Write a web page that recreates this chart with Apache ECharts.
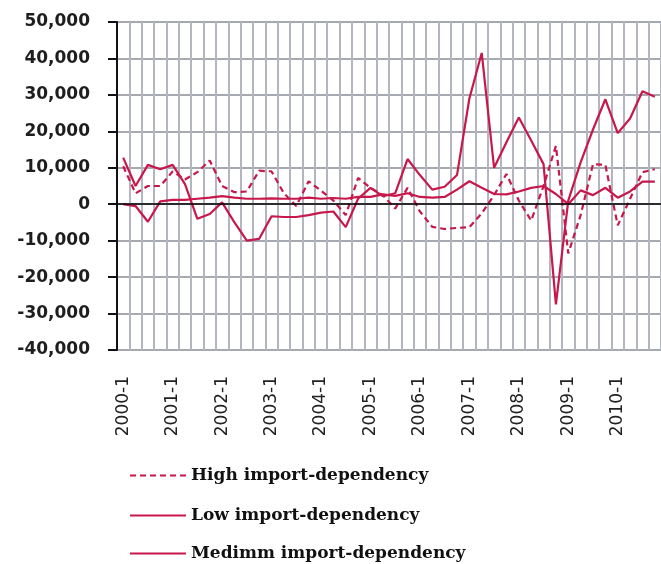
<!DOCTYPE html>
<html>
<head>
<meta charset="utf-8">
<title>import-dependency</title>
<script src="https://cdn.jsdelivr.net/npm/echarts@6/dist/echarts.min.js"></script>
<style>
    html, body {margin: 0; padding: 0; background: #fff;}
    #chart {width: 661px; height: 564px;}
</style>
</head>
<body>
<div id="chart"></div>
<script>
// quarters 2000-1 .. 2010-4
let quarters = [
    "2000-1","2000-2","2000-3","2000-4","2001-1","2001-2","2001-3","2001-4",
    "2002-1","2002-2","2002-3","2002-4","2003-1","2003-2","2003-3","2003-4",
    "2004-1","2004-2","2004-3","2004-4","2005-1","2005-2","2005-3","2005-4",
    "2006-1","2006-2","2006-3","2006-4","2007-1","2007-2","2007-3","2007-4",
    "2008-1","2008-2","2008-3","2008-4","2009-1","2009-2","2009-3","2009-4",
    "2010-1","2010-2","2010-3","2010-4"
];

let seriesNames = ["High import-dependency", "Low import-dependency", "Medimm import-dependency"];

let highDep = [
    10400, 3000, 5000, 5000, 9000, 6800, 8800, 12000,
    5000, 3300, 3500, 9200, 9000, 3000, -500, 6300,
    3700, 1000, -3000, 7200, 4500, 2500, -1200, 4500,
    -2000, -6200, -6800, -6500, -6300, -2500, 2500, 8300,
    1000, -4500, 5000, 16000, -13500, -3000, 11000, 10800,
    -5800, 1500, 8800, 9600
];

let lowDep = [
    12800, 5000, 10800, 9600, 10800, 5500, -4000, -2700,
    500, -5000, -10000, -9500, -3300, -3500, -3500, -3000,
    -2300, -2000, -6300, 1500, 4500, 2200, 3000, 12400,
    8000, 4000, 4800, 8000, 29000, 41500, 10000, 17000,
    23800, 17500, 11000, -27500, 1000, 11500, 20500, 28800,
    19500, 23500, 31000, 29500
];

let mediumDep = [
    0, -500, -4800, 800, 1200, 1200, 1500, 1800,
    2200, 1800, 1500, 1500, 1600, 1500, 1500, 1800,
    1500, 1700, 1500, 2000, 2000, 2700, 2300, 3000,
    2000, 1800, 2000, 4000, 6300, 4500, 2800, 2700,
    3500, 4500, 5000, 2800, 0, 3800, 2500, 4500,
    1800, 3500, 6200, 6200
];

let yTicks = {min: -40000, max: 50000, interval: 10000};

let lineColor = "#c8174b";
let gridColor = "#b3b6bf";

let fmt = v => v.toLocaleString("en-US");

// one legend per row, stacked under the chart
let legendRow = (name, top) => ({
    left: 124
    ,top: top
    ,itemWidth: 56
    ,itemHeight: 14
    ,itemStyle: {color: "rgba(0,0,0,0)", borderWidth: 0}
    ,textStyle: {fontFamily: "DejaVu Serif", fontWeight: "bold", fontSize: 17, color: "#111"}
    ,data: [name]
});

let option = {
    backgroundColor: "#fff"
    ,animation: false
    ,grid: {left: 117, top: 22, width: 550, height: 328}
    ,legend: [
        legendRow(seriesNames[0], 462)
        ,legendRow(seriesNames[1], 502)
        ,legendRow(seriesNames[2], 540)
    ]
    ,xAxis: {
        type: "category"
        ,data: quarters
        ,boundaryGap: true
        ,axisLine: {show: false, onZero: false}
        ,axisTick: {show: false}
        ,splitLine: {show: true, interval: 0, lineStyle: {color: gridColor, width: 2}}
        ,axisLabel: {
            interval: 3
            ,rotate: 90
            ,margin: 26
            ,fontFamily: "DejaVu Sans"
            ,fontSize: 17
            ,color: "#222"
        }
    }
    ,yAxis: {
        type: "value"
        ,min: yTicks.min
        ,max: yTicks.max
        ,interval: yTicks.interval
        ,axisLine: {show: true, lineStyle: {color: "#111", width: 2}}
        ,axisTick: {show: true, length: 9, lineStyle: {color: "#111", width: 2}}
        ,splitLine: {lineStyle: {color: "#a7a9b0", width: 2}}
        ,axisLabel: {
            margin: 27
            ,formatter: fmt
            ,fontFamily: "DejaVu Sans"
            ,fontWeight: "bold"
            ,fontSize: 17
            ,color: "#1e1e1e"
        }
    }
    ,series: [{
        name: seriesNames[0]
        ,type: "line"
        ,data: highDep
        ,symbol: "none"
        ,lineStyle: {color: lineColor, width: 2.2, type: [6, 4]}
        ,itemStyle: {color: lineColor}
        // 0 line across the plot
        ,markLine: {
            silent: true
            ,symbol: "none"
            ,label: {show: false}
            ,lineStyle: {color: "#000", width: 1.5, type: "solid"}
            ,data: [{yAxis: 0}]
        }
    }, {
        name: seriesNames[1]
        ,type: "line"
        ,data: lowDep
        ,symbol: "none"
        ,lineStyle: {color: lineColor, width: 2.2}
        ,itemStyle: {color: lineColor}
    }, {
        name: seriesNames[2]
        ,type: "line"
        ,data: mediumDep
        ,symbol: "none"
        ,lineStyle: {color: lineColor, width: 2.2}
        ,itemStyle: {color: lineColor}
    }]
};

let chart = echarts.init(document.getElementById("chart"));
chart.setOption(option, true);
</script>
</body>
</html>
